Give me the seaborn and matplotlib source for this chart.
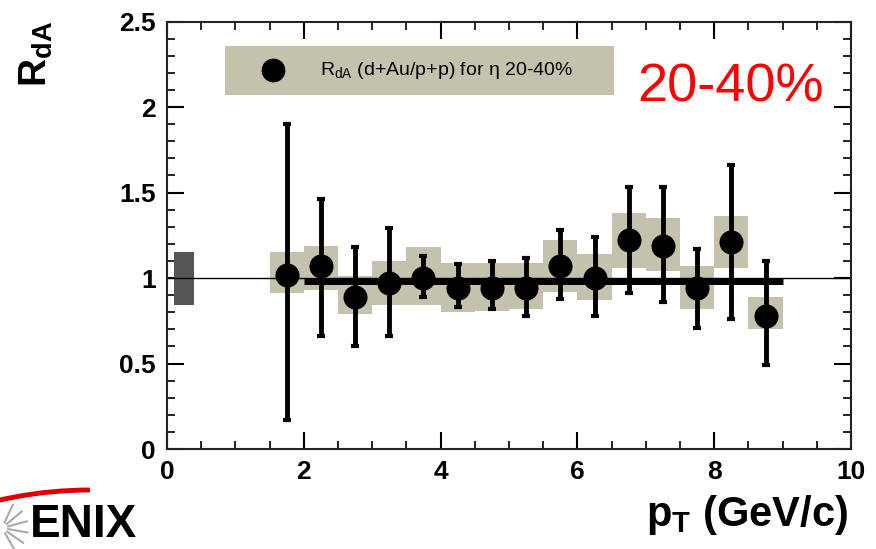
import numpy as np
import pandas as pd
import matplotlib
matplotlib.use("Agg")
import matplotlib.pyplot as plt
from matplotlib.patches import Rectangle, Arc
from matplotlib.lines import Line2D
from matplotlib.ticker import MultipleLocator
import seaborn as sns

# ---- data ----
pt = [1.75, 2.25, 2.75, 3.25, 3.75, 4.25, 4.75, 5.25, 5.75, 6.25, 6.75, 7.25, 7.75, 8.25, 8.75]
rda = [1.02, 1.07, 0.89, 0.97, 1.00, 0.94, 0.94, 0.94, 1.07, 1.00, 1.22, 1.19, 0.94, 1.21, 0.78]
stat_hi = [1.90, 1.46, 1.18, 1.29, 1.13, 1.08, 1.10, 1.12, 1.28, 1.24, 1.53, 1.53, 1.17, 1.66, 1.10]
stat_lo = [0.17, 0.66, 0.60, 0.66, 0.89, 0.83, 0.82, 0.78, 0.88, 0.78, 0.91, 0.86, 0.71, 0.76, 0.49]
sys_hi = [1.15, 1.19, 1.01, 1.10, 1.18, 1.09, 1.09, 1.09, 1.22, 1.14, 1.38, 1.35, 1.07, 1.36, 0.89]
sys_lo = [0.91, 0.93, 0.79, 0.84, 0.84, 0.80, 0.81, 0.82, 0.92, 0.87, 1.06, 1.04, 0.82, 1.06, 0.70]
bin_width = 0.5
norm_box = (0.1, 0.4, 0.845, 1.155)   # x0, x1, y0, y1 of global normalisation uncertainty
fit_range = (2.0, 9.0)
fit_value = 0.985
legend_label = r"R$_{\mathregular{dA}}$ (d+Au/p+p) for η 20-40%"
centrality = "20-40%"
x_ticks = [0, 2, 4, 6, 8, 10]
x_ticklabels = ["0", "2", "4", "6", "8", "10"]
y_ticks = [0, 0.5, 1, 1.5, 2, 2.5]
y_ticklabels = ["0", "0.5", "1", "1.5", "2", "2.5"]

df = pd.DataFrame({"pt": pt, "rda": rda})

sns.set_style("ticks")
plt.rcParams["font.family"] = ["Liberation Sans", "DejaVu Sans"]
plt.rcParams["text.color"] = "black"
plt.rcParams["xtick.color"] = "black"
plt.rcParams["ytick.color"] = "black"
plt.rcParams["axes.labelcolor"] = "black"
plt.rcParams["mathtext.fontset"] = "custom"
plt.rcParams["mathtext.rm"] = "Liberation Sans"
plt.rcParams["mathtext.bf"] = "Liberation Sans:bold"

fig = plt.figure(figsize=(8.76, 5.49), dpi=100)
ax = fig.add_axes([0.1906, 0.1821, 0.9715 - 0.1906, 0.9608 - 0.1821])

sys_color = "#c4c2ac"
# systematic boxes
for x, lo, hi in zip(pt, sys_lo, sys_hi):
    ax.add_patch(Rectangle((x - bin_width / 2, lo), bin_width, hi - lo,
                           facecolor=sys_color, edgecolor="none", zorder=1))
# normalisation box
ax.add_patch(Rectangle((norm_box[0], norm_box[2]), norm_box[1] - norm_box[0],
                       norm_box[3] - norm_box[2], facecolor="#555555",
                       edgecolor="none", zorder=1))
# reference line at 1
ax.axhline(1.0, color="black", lw=1.0, zorder=2)
# fit line
ax.plot(fit_range, [fit_value, fit_value], color="black", lw=5, zorder=3,
        solid_capstyle="butt")
# stat errors
yerr = [np.array(rda) - np.array(stat_lo), np.array(stat_hi) - np.array(rda)]
ax.errorbar(pt, rda, yerr=yerr, fmt="none", ecolor="black", elinewidth=3.5,
            capsize=3, capthick=3, zorder=4)
# points
sns.scatterplot(data=df, x="pt", y="rda", ax=ax, color="black", s=300,
                marker="o", edgecolor="black", linewidth=0, zorder=5, legend=False)

# legend-like box
ax.add_patch(Rectangle((0.85, 2.07), 6.53 - 0.85, 2.358 - 2.07,
                       facecolor=sys_color, edgecolor="none", zorder=1))
ax.scatter([1.55], [2.215], s=260, color="black", zorder=5)
ax.text(2.24, 2.215, legend_label, fontsize=14, va="center", ha="left",
        color="black", zorder=6)

ax.text(9.605, 2.031, centrality, fontsize=39, color="#ff0000",
        ha="right", va="baseline")

ax.set_xlim(0, 10)
ax.set_ylim(0, 2.5)
ax.xaxis.set_minor_locator(MultipleLocator(0.5))
ax.yaxis.set_minor_locator(MultipleLocator(0.1))
ax.tick_params(which="both", direction="in", top=True, right=True, color="black")
ax.tick_params(which="major", length=12, width=1.5, labelsize=19, pad=8)
ax.tick_params(which="minor", length=6, width=1.2)
ax.set_xticks(x_ticks)
ax.set_xticklabels(x_ticklabels, fontweight="bold")
ax.set_yticks(y_ticks)
ax.set_yticklabels(y_ticklabels, fontweight="bold")
for sp in ax.spines.values():
    sp.set_linewidth(1.5)
    sp.set_color("#222222")

ax.set_xlabel("")
ax.set_ylabel("")
fig.text(0.968, 0.022, r"p$_\mathbf{T}$ (GeV/c)", fontsize=30, fontweight="bold",
         ha="right", va="bottom")
fig.text(0.02, 0.962, r"R$_\mathbf{dA}$", fontsize=28, fontweight="bold",
         rotation=90, ha="left", va="top")

# logo fragment
fig.text(0.034, 0.004, "ENIX", fontsize=33, fontweight="bold", ha="left", va="bottom")
W, H = 876.0, 549.0
fig.patches.append(Arc((90 / W, 1 - 900 / H), 820 / W, 820 / H, theta1=90, theta2=120,
                       transform=fig.transFigure, color="#dd0000", lw=3.5))
cx, cy = 2 / W, 1 - 528 / H
for ang in [-60, -35, -10, 15, 40, 65]:
    a = np.deg2rad(ang)
    fig.lines.append(Line2D([cx + 6 * np.cos(a) / W, cx + 26 * np.cos(a) / W],
                            [cy + 6 * np.sin(a) / H, cy + 26 * np.sin(a) / H],
                            transform=fig.transFigure, color="#aaaaaa", lw=1.5))

fig.savefig("out.png", dpi=100)
